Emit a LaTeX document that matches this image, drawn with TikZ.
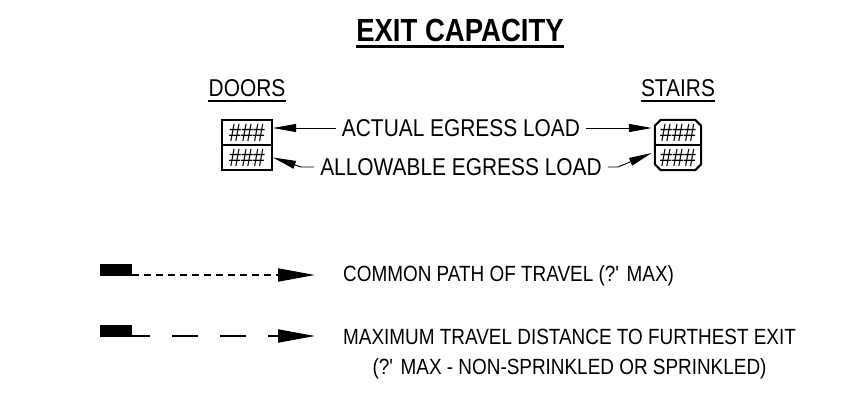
\documentclass[tikz,border=0pt]{standalone}
\usepackage{fontspec}
\setmainfont[FakeStretch=0.86]{Liberation Sans}
\usetikzlibrary{arrows.meta}

\begin{document}
\begin{tikzpicture}[x=1pt,y=-1pt,
  lbl/.style={font=\fontsize{24.3}{28}\selectfont, inner sep=0pt},
  note/.style={font=\fontsize{22}{26}\selectfont, inner sep=0pt},
  hashes/.style={font=\fontsize{25}{25}\selectfont, inner sep=0pt},
  load/.style={-{Triangle[length=23pt,width=8pt]}, line width=0.9pt},
  legend/.style={-{Triangle[length=37pt,width=13pt]}, line width=2pt}]
\useasboundingbox (0,0) rectangle (856,398);

% heading
\node [font=\bfseries\fontsize{32}{32}\selectfont, inner sep=0pt, anchor=base] (title) at (460,42) {EXIT CAPACITY};
\draw [line width=3pt] ([yshift=-5pt]title.base west) -- ([yshift=-5pt]title.base east);

% door box
\node [draw, line width=2pt, minimum width=50pt, minimum height=25pt, hashes] (dtop) at (247,132.5) {\#\#\#};
\node [draw, line width=2pt, minimum width=50pt, minimum height=25pt, hashes] (dbot) at (247,157.5) {\#\#\#};

% stair box (chamfered corners)
\node [minimum width=46pt, minimum height=50pt, inner sep=0pt] (sbox) at (678,145) {};
\draw [line width=2pt] ([xshift=6pt]sbox.north west) -- ([xshift=-6pt]sbox.north east)
  -- ([yshift=-6pt]sbox.north east) -- ([yshift=6pt]sbox.south east)
  -- ([xshift=-6pt]sbox.south east) -- ([xshift=6pt]sbox.south west)
  -- ([yshift=6pt]sbox.south west) -- ([yshift=-6pt]sbox.north west) -- cycle;
\draw [line width=2pt] (sbox.west) -- (sbox.east);
\node [hashes] (stop) at (678,132.5) {\#\#\#};
\node [hashes] (sbot) at (678,157.5) {\#\#\#};

\node [lbl, anchor=base] (doors) at (dtop |- 0,97) {DOORS};
\draw [line width=1.4pt] ([yshift=-4pt]doors.base west) -- ([yshift=-4pt]doors.base east);
\node [lbl, anchor=base] (stairs) at (sbox |- 0,97) {STAIRS};
\draw [line width=1.4pt] ([yshift=-4pt]stairs.base west) -- ([yshift=-4pt]stairs.base east);

% egress loads
\node [lbl] (actual) at (461,128) {ACTUAL EGRESS LOAD};
\draw [load] ([xshift=-6pt]actual.west) -- (actual.west -| dtop.east);
\draw [load] ([xshift=6pt]actual.east) -- ([xshift=-3pt]actual.east -| sbox.west);
\node [lbl] (allow) at (461,167) {ALLOWABLE EGRESS LOAD};
\draw [load] ([xshift=-6pt]allow.west) -- ++(-13,0) -- (dbot.east);
\draw [load] ([xshift=6pt]allow.east) -- ++(10,0) -- ([xshift=-3pt,yshift=-8pt]sbox.west);

% legend
\node [fill, minimum width=32pt, minimum height=12pt, inner sep=0pt, anchor=south west] (bar1) at (100,276) {};
\coordinate (tip1) at (315,275);
\draw [legend, dash pattern=on 7pt off 5pt] ([yshift=1pt]bar1.south east) -- (tip1);
\node [note, anchor=west] (common) at (343,276) {COMMON PATH OF TRAVEL (?\textquotesingle{} MAX)};

\node [fill, minimum width=32pt, minimum height=12pt, inner sep=0pt, anchor=south west] (bar2) at (100,337) {};
\coordinate (tip2) at (315,336);
\draw [legend, dash pattern=on 26pt off 22pt, dash phase=8pt] ([yshift=1pt]bar2.south east) -- (tip2);
\node [note, anchor=west] (maxdist) at (343,337) {MAXIMUM TRAVEL DISTANCE TO FURTHEST EXIT};
\node [note] (maxnote) at ([yshift=-32pt]maxdist.center) {(?\textquotesingle{} MAX - NON-SPRINKLED OR SPRINKLED)};
\end{tikzpicture}
\end{document}
